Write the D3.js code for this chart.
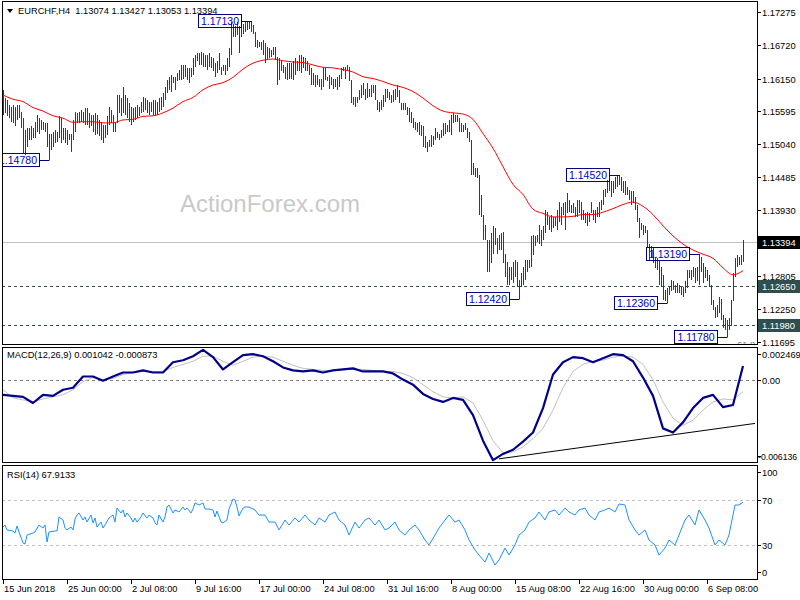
<!DOCTYPE html>
<html><head><meta charset="utf-8">
<script src="https://cdn.jsdelivr.net/npm/d3@7"></script>
<style>
html,body{margin:0;padding:0;background:#fff;}
svg{display:block;font-family:"Liberation Sans",Arial,sans-serif;}
</style></head><body>
<svg id="chart" width="800" height="600"></svg>
<script>
// ---------------- DATA ----------------
const symbol = "EURCHF,H4";
const lastOHLC = ["1.13074","1.13427","1.13053","1.13394"];
const lastPrice = 1.13394;

const highs = [
1.1596,1.1582,1.1579,1.1570,1.1567,1.1570,1.1567,1.1570,1.1570,1.1559,
1.1548,1.1528,1.1531,1.1531,1.1534,1.1531,1.1542,1.1553,1.1548,1.1545,
1.1542,1.1539,1.1539,1.1522,1.1522,1.1525,1.1528,1.1525,1.1551,1.1548,
1.1531,1.1531,1.1528,1.1522,1.1522,1.1545,1.1559,1.1556,1.1559,1.1562,
1.1559,1.1565,1.1565,1.1556,1.1553,1.1553,1.1556,1.1553,1.1545,1.1542,
1.1536,1.1536,1.1551,1.1567,1.1562,1.1553,1.1542,1.1587,1.1587,1.1582,
1.1600,1.1587,1.1582,1.1573,1.1567,1.1565,1.1567,1.1570,1.1567,1.1576,
1.1584,1.1582,1.1579,1.1576,1.1576,1.1579,1.1579,1.1576,1.1582,1.1584,
1.1590,1.1601,1.1613,1.1618,1.1621,1.1618,1.1618,1.1624,1.1630,1.1638,
1.1638,1.1638,1.1632,1.1632,1.1632,1.1649,1.1655,1.1658,1.1659,1.1660,
1.1658,1.1655,1.1655,1.1658,1.1652,1.1649,1.1641,1.1644,1.1658,1.1635,
1.1638,1.1638,1.1649,1.1666,1.1711,1.1708,1.1703,1.1711,1.1703,1.1706,
1.1708,1.1711,1.1711,1.1711,1.1713,1.1706,1.1694,1.1680,1.1677,1.1677,
1.1680,1.1675,1.1669,1.1666,1.1663,1.1669,1.1669,1.1652,1.1649,1.1646,
1.1638,1.1635,1.1641,1.1641,1.1641,1.1644,1.1649,1.1644,1.1655,1.1655,
1.1652,1.1649,1.1644,1.1638,1.1632,1.1624,1.1621,1.1621,1.1615,1.1615,
1.1635,1.1632,1.1618,1.1621,1.1618,1.1615,1.1615,1.1618,1.1621,1.1632,
1.1635,1.1635,1.1638,1.1635,1.1613,1.1584,1.1584,1.1584,1.1596,1.1604,
1.1607,1.1598,1.1607,1.1598,1.1604,1.1604,1.1604,1.1579,1.1576,1.1579,
1.1587,1.1598,1.1598,1.1593,1.1587,1.1596,1.1598,1.1604,1.1596,1.1573,
1.1573,1.1573,1.1567,1.1565,1.1559,1.1548,1.1542,1.1539,1.1542,1.1536,
1.1534,1.1517,1.1508,1.1511,1.1520,1.1517,1.1531,1.1525,1.1522,1.1528,
1.1539,1.1539,1.1536,1.1545,1.1553,1.1556,1.1553,1.1553,1.1548,1.1539,
1.1536,1.1539,1.1531,1.1525,1.1511,1.1472,1.1463,1.1463,1.1452,1.1418,
1.1384,1.1367,1.1342,1.1342,1.1353,1.1365,1.1362,1.1345,1.1350,1.1353,
1.1356,1.1319,1.1305,1.1297,1.1297,1.1305,1.1308,1.1305,1.1274,1.1286,
1.1297,1.1308,1.1308,1.1308,1.1348,1.1350,1.1348,1.1350,1.1367,1.1359,
1.1365,1.1393,1.1390,1.1381,1.1384,1.1381,1.1381,1.1393,1.1407,1.1398,
1.1404,1.1407,1.1421,1.1410,1.1401,1.1404,1.1398,1.1410,1.1410,1.1407,
1.1393,1.1387,1.1390,1.1387,1.1407,1.1393,1.1393,1.1398,1.1407,1.1410,
1.1427,1.1429,1.1444,1.1444,1.1441,1.1441,1.1449,1.1451,1.14520,1.1449,
1.1441,1.1441,1.1432,1.1427,1.1424,1.1424,1.1415,1.1401,1.1379,1.1370,
1.1367,1.1365,1.1359,1.1336,1.1331,1.1328,1.1314,1.1311,1.1308,1.1297,
1.1283,1.1258,1.1260,1.1263,1.1274,1.1272,1.1266,1.1269,1.1266,1.1263,
1.1263,1.1272,1.1291,1.1291,1.1291,1.1297,1.1294,1.1297,1.13190,1.1314,
1.1303,1.1297,1.1291,1.1283,1.1266,1.1241,1.1229,1.1232,1.1246,1.1243,
1.1215,1.1210,1.1207,1.1210,1.1241,1.1286,1.1311,1.1317,1.1314,1.1317,1.13427];

const lows = [
1.1553,1.1556,1.1551,1.1548,1.1542,1.1539,1.1534,1.1545,1.1548,1.1531,
1.1489,1.1486,1.1500,1.1511,1.1511,1.1514,1.1514,1.1525,1.1522,1.1528,
1.1528,1.1525,1.1500,1.14780,1.1494,1.1500,1.1506,1.1508,1.1514,1.1506,
1.1511,1.1506,1.1503,1.1511,1.1490,1.1511,1.1525,1.1539,1.1539,1.1542,
1.1539,1.1536,1.1536,1.1531,1.1534,1.1525,1.1520,1.1522,1.1517,1.1511,
1.1506,1.1514,1.1520,1.1536,1.1539,1.1525,1.1525,1.1539,1.1556,1.1551,
1.1556,1.1553,1.1548,1.1542,1.1536,1.1542,1.1545,1.1548,1.1551,1.1556,
1.1559,1.1562,1.1556,1.1553,1.1559,1.1553,1.1551,1.1553,1.1559,1.1562,
1.1567,1.1579,1.1590,1.1596,1.1593,1.1607,1.1596,1.1610,1.1613,1.1613,
1.1615,1.1618,1.1613,1.1607,1.1618,1.1621,1.1635,1.1644,1.1638,1.1638,
1.1635,1.1635,1.1630,1.1635,1.1632,1.1627,1.1618,1.1624,1.1630,1.1621,
1.1627,1.1621,1.1627,1.1635,1.1655,1.1686,1.1686,1.1689,1.1658,1.1686,
1.1691,1.1694,1.1697,1.1698,1.1694,1.1691,1.1669,1.1666,1.1669,1.1663,
1.1655,1.1641,1.1646,1.1649,1.1652,1.1655,1.1646,1.1604,1.1613,1.1627,
1.1624,1.1615,1.1613,1.1615,1.1615,1.1613,1.1621,1.1627,1.1627,1.1624,
1.1632,1.1627,1.1627,1.1621,1.1604,1.1604,1.1601,1.1604,1.1601,1.1596,
1.1601,1.1613,1.1610,1.1598,1.1604,1.1598,1.1601,1.1596,1.1601,1.1615,
1.1627,1.1615,1.1627,1.1610,1.1573,1.1570,1.1567,1.1573,1.1579,1.1582,
1.1587,1.1579,1.1582,1.1584,1.1584,1.1590,1.1579,1.1562,1.1559,1.1562,
1.1567,1.1576,1.1582,1.1579,1.1573,1.1576,1.1579,1.1584,1.1573,1.1562,
1.1562,1.1562,1.1553,1.1542,1.1539,1.1531,1.1528,1.1525,1.1520,1.1517,
1.1500,1.1497,1.1490,1.1500,1.1500,1.1503,1.1511,1.1514,1.1511,1.1514,
1.1517,1.1522,1.1525,1.1525,1.1520,1.1539,1.1542,1.1542,1.1525,1.1525,
1.1525,1.1528,1.1514,1.1508,1.1452,1.1452,1.1449,1.1446,1.1384,1.1381,
1.1342,1.1342,1.1288,1.1288,1.1303,1.1319,1.1334,1.1319,1.1325,1.1325,
1.1303,1.1280,1.1266,1.1266,1.1274,1.1269,1.1280,1.1263,1.12420,1.1263,
1.1266,1.1274,1.1288,1.1294,1.1297,1.1317,1.1331,1.1339,1.1336,1.1331,
1.1342,1.1353,1.1367,1.1359,1.1356,1.1362,1.1365,1.1359,1.1373,1.1367,
1.1384,1.1359,1.1387,1.1390,1.1387,1.1387,1.1381,1.1381,1.1387,1.1376,
1.1376,1.1370,1.1365,1.1373,1.1387,1.1376,1.1370,1.1381,1.1381,1.1393,
1.1401,1.1415,1.1421,1.1424,1.1415,1.1421,1.1429,1.1432,1.1435,1.1424,
1.1421,1.1418,1.1418,1.1410,1.1401,1.1404,1.1393,1.1373,1.1345,1.1359,
1.1350,1.1353,1.1328,1.1308,1.1311,1.1303,1.1294,1.1291,1.1266,1.1263,
1.1240,1.1238,1.12360,1.1249,1.1255,1.1258,1.1252,1.1252,1.1252,1.1249,
1.1246,1.1252,1.1260,1.1277,1.1274,1.1280,1.1269,1.1272,1.1266,1.1288,
1.1269,1.1277,1.1272,1.1263,1.1232,1.1224,1.1210,1.1212,1.1218,1.1207,
1.1193,1.1190,1.11780,1.1190,1.1196,1.1238,1.1280,1.1297,1.1300,1.1300,1.13053];

// moving average, read every 5 bars (bar 0,5,...,370)
const maValues = [
1.1587,1.1580,1.1576,1.1566,1.1560,1.1552,1.1548,1.1541,1.1542,1.1542,
1.1540,1.1540,1.1545,1.1546,1.1551,1.1552,1.1557,1.1565,1.1576,1.1583,
1.1596,1.1604,1.1608,1.1617,1.1631,1.1641,1.1646,1.1648,1.1645,1.1643,
1.1642,1.1638,1.1634,1.1633,1.1630,1.1626,1.1618,1.1615,1.1610,1.1604,
1.1600,1.1593,1.1582,1.1569,1.1560,1.1557,1.1555,1.1546,1.1522,1.1497,
1.1466,1.1436,1.1419,1.1394,1.1387,1.1381,1.1381,1.1382,1.1385,1.1385,
1.1389,1.1395,1.1402,1.1406,1.1399,1.1385,1.1366,1.1349,1.1335,1.1325,
1.1318,1.1311,1.1295,1.1283,1.1290];

// MACD(12,26,9), read every 5 bars
const macdMain = [
-0.00111,-0.00119,-0.00126,-0.00172,-0.00111,-0.00119,-0.00073,-0.00058,0.00026,0.00026,
-0.00005,0.00026,0.00056,0.00056,0.00072,0.00056,0.00056,0.00133,0.00148,0.00178,
0.00225,0.00171,0.00079,0.00133,0.00186,0.00193,0.00178,0.00140,0.00094,0.00072,
0.00064,0.00072,0.00056,0.00072,0.00079,0.00087,0.00064,0.00064,0.00064,0.00049,
0.00003,-0.00035,-0.00104,-0.00142,-0.00164,-0.00134,-0.00149,-0.00263,-0.00454,-0.00600,
-0.00553,-0.00522,-0.00461,-0.00393,-0.00210,0.00041,0.00133,0.00171,0.00163,0.00133,
0.00163,0.00193,0.00186,0.00140,0.00018,-0.00119,-0.00362,-0.00393,-0.00317,-0.00210,
-0.00134,-0.00111,-0.00203,-0.00187,0.001042];
const macdSignal = [
-0.00073,-0.00134,-0.00149,-0.00164,-0.00142,-0.00126,-0.00111,-0.00073,-0.00012,0.00018,
0.00003,0.00011,0.00041,0.00056,0.00064,0.00064,0.00064,0.00094,0.00117,0.00140,
0.00178,0.00178,0.00140,0.00110,0.00140,0.00171,0.00178,0.00171,0.00140,0.00110,
0.00087,0.00079,0.00072,0.00072,0.00079,0.00079,0.00079,0.00072,0.00064,0.00064,
0.00049,0.00018,-0.00035,-0.00088,-0.00126,-0.00134,-0.00126,-0.00172,-0.00301,-0.00454,
-0.00545,-0.00538,-0.00500,-0.00439,-0.00362,-0.00225,-0.00058,0.00064,0.00117,0.00140,
0.00148,0.00171,0.00178,0.00171,0.00117,0.00003,-0.00164,-0.00286,-0.00340,-0.00301,
-0.00225,-0.00164,-0.00142,-0.00149,-0.000873];
const macdTrendBars = [248, 376];
const macdTrendValues = [-0.00590, -0.00325];

// RSI(14)
const rsiBars = [
0,1,2,5,6,7,8,10,11,12,15,16,18,20,21,22,23,26,27,28,
30,31,32,34,35,36,37,38,40,41,42,44,45,46,47,49,50,51,53,55,
56,57,59,60,61,62,64,65,66,67,69,70,72,73,75,76,77,78,80,81,
82,83,85,86,88,90,91,92,94,95,96,98,100,101,103,105,106,107,109,110,
112,113,115,116,117,118,120,121,123,
124,126,128,131,133,136,138,141,143,146,148,151,153,156,158,161,163,166,168,171,
173,176,178,181,183,186,188,191,193,196,198,201,203,206,208,211,213,216,218,221,
223,226,228,231,233,236,238,241,243,246,248,251,253,256,258,261,263,266,268,271,
273,276,278,281,283,286,288,291,293,296,298,301,303,306,308,311,313,316,318,321,
323,326,328,331,333,336,338,341,343,346,348,351,353,356,358,361,363,366,368,370];
const rsiValues = [
46.0,47.8,43.4,42.5,40.7,46.9,41.6,31.9,31.0,38.9,40.7,41.6,47.8,45.1,47.8,32.7,41.6,42.5,42.5,54.9,
52.2,45.1,43.4,46.0,43.4,53.1,56.6,58.4,52.2,54.9,50.4,56.6,49.6,54.0,46.0,50.4,45.1,47.8,54.0,56.6,
50.4,62.8,58.4,61.1,54.9,58.4,54.0,50.4,54.0,50.4,54.9,58.4,54.0,56.6,54.0,49.6,47.8,56.6,50.4,54.9,
63.7,65.5,58.4,61.1,59.3,63.7,61.1,62.8,58.4,61.9,67.3,65.5,67.3,61.9,61.9,61.1,54.9,60.2,50.4,49.6,
52.2,61.9,70.8,69.9,63.7,55.8,62.8,63.7,63.7,
62.8,61.1,56.6,56.6,50.4,50.4,43.4,52.2,47.8,54.0,50.4,56.6,52.2,47.8,54.0,50.4,56.6,59.3,52.2,47.8,
38.9,50.4,45.1,52.2,54.0,47.8,52.2,43.4,45.1,50.4,43.4,38.9,43.4,47.8,43.4,34.5,30.1,38.9,45.1,52.2,
56.6,50.4,52.2,43.4,34.5,25.7,21.2,15.0,23.0,12.4,16.8,27.4,21.2,30.1,38.9,43.4,50.4,54.0,59.3,52.2,
59.3,61.1,56.6,62.8,59.3,56.6,61.1,62.8,56.6,52.2,59.3,61.1,62.8,59.3,66.4,65.5,52.2,43.4,38.9,43.4,
34.5,30.1,21.2,27.4,34.5,30.1,38.9,52.2,56.6,47.8,61.1,52.2,45.1,30.1,34.5,30.1,38.9,65.5,65.5,67.9133];

// swing labels
const swingLabels = ["1.14780","1.17130","1.12420","1.14520","1.13190","1.12360","1.11780"];
const swingBars = [23,124,258,308,348,332,362];
const swingPrices = [1.14780,1.17130,1.12420,1.14520,1.13190,1.12360,1.11780];

// horizontal levels
const levelPrices = [1.12650, 1.11980];
const levelLabels = ["1.12650","1.11980"];

// axis ticks
const priceTicks = ["1.17275","1.16720","1.16150","1.15595","1.15040","1.14485","1.13930","1.12805","1.12250","1.11695"];
const macdTickLabels = ["0.002469","0.00","-0.006136"];
const rsiTickLabels = ["100","70","30","0"];
const rsiLevels = [70, 30];
const timeLabels = ["15 Jun 2018","25 Jun 00:00","2 Jul 08:00","9 Jul 16:00","17 Jul 00:00","24 Jul 08:00","31 Jul 16:00","8 Aug 00:00","15 Aug 08:00","22 Aug 16:00","30 Aug 00:00","6 Sep 08:00"];
const timeBars = [0,32,64,96,128,160,192,224,256,288,320,352];

// ---------------- LAYOUT ----------------
const svg = d3.select("#chart");
const L = 2, R = 757;
const P = {top:1, bottom:344}, M = {top:347, bottom:462}, S = {top:465, bottom:579};
const FS = 9.3;

const x = d3.scaleLinear().domain([0, 1]).range([3, 5]);
const y = d3.scaleLinear().domain([1.11695, 1.17275]).range([342, 12]);
const ym = d3.scaleLinear().domain([-0.006136, 0.002469]).range([462, 347]);
const yr = d3.scaleLinear().domain([0, 100]).range([579, 466]);

const defs = svg.append("defs");
function clip(id, p){ defs.append("clipPath").attr("id", id).append("rect").attr("x", L+1).attr("y", p.top+1).attr("width", R-L-1).attr("height", p.bottom-p.top-1); }
clip("cp", P); clip("cm", M); clip("cr", S);

svg.append("rect").attr("width",800).attr("height",600).attr("fill","#fff");

// ---- price panel
const gp = svg.append("g").attr("clip-path","url(#cp)");
gp.append("text").attr("x",180).attr("y",212).attr("font-size",24).attr("fill","#c9c9c9").text("ActionForex.com");
gp.append("line").attr("x1",L).attr("x2",R).attr("y1",Math.round(y(lastPrice))+0.5).attr("y2",Math.round(y(lastPrice))+0.5).attr("stroke","#c0c0c0");
levelPrices.forEach(v=>{
  gp.append("line").attr("x1",L).attr("x2",R).attr("y1",Math.round(y(v))+0.5).attr("y2",Math.round(y(v))+0.5)
    .attr("stroke","#2f4f4f").attr("stroke-dasharray","3,3");
});
const bars = d3.range(highs.length).map(i=>({i, h:highs[i], l:lows[i]}));
gp.append("g").selectAll("line").data(bars).join("line")
  .attr("x1",d=>Math.round(x(d.i))+0.5).attr("x2",d=>Math.round(x(d.i))+0.5)
  .attr("y1",d=>Math.round(y(d.h))).attr("y2",d=>Math.max(Math.round(y(d.l)), Math.round(y(d.h))+1))
  .attr("stroke","#17465c").attr("stroke-width",1);
const maPts = maValues.map((v,k)=>[k*5, v]);
gp.append("path").datum(maPts).attr("fill","none").attr("stroke","#ff0000").attr("stroke-width",1)
  .attr("d", d3.line().x(d=>x(d[0])).y(d=>y(d[1])).curve(d3.curveMonotoneX));
swingLabels.forEach((lab,k)=>{
  const bx = x(swingBars[k]), by = Math.round(y(swingPrices[k]));
  const w = 43, h = 13, right = Math.round(bx) - 10;
  gp.append("line").attr("x1",right).attr("x2",Math.round(bx)+0.5).attr("y1",by+0.5).attr("y2",by+0.5).attr("stroke","#000080");
  gp.append("rect").attr("x",right-w+0.5).attr("y",by-6.5).attr("width",w).attr("height",h)
    .attr("fill","none").attr("stroke","#000080");
  gp.append("text").attr("x",right-w/2+0.5).attr("y",by+4).attr("text-anchor","middle")
    .attr("font-size",10.5).attr("fill","#0000c8").text(lab);
});
gp.append("text").attr("x",737).attr("y",348).attr("font-size",FS).attr("fill","#808080").text("61.8");

// ---- MACD panel
const gm = svg.append("g").attr("clip-path","url(#cm)");
gm.append("line").attr("x1",L).attr("x2",R).attr("y1",Math.round(ym(0))+0.5).attr("y2",Math.round(ym(0))+0.5)
  .attr("stroke","#808080").attr("stroke-dasharray","3,3");
const sigPts = macdSignal.map((v,k)=>[k*5, v]);
const mainPts = macdMain.map((v,k)=>[k*5, v]);
const lm = d3.line().x(d=>x(d[0])).y(d=>ym(d[1]));
gm.append("path").datum(sigPts).attr("fill","none").attr("stroke","#c0c0c0").attr("stroke-width",1).attr("d",lm);
gm.append("path").datum(mainPts).attr("fill","none").attr("stroke","#00008b").attr("stroke-width",2.2)
  .attr("stroke-linejoin","round").attr("d",lm);
gm.append("line").attr("x1",x(macdTrendBars[0])).attr("x2",x(macdTrendBars[1]))
  .attr("y1",ym(macdTrendValues[0])).attr("y2",ym(macdTrendValues[1])).attr("stroke","#000").attr("stroke-width",1);

// ---- RSI panel
const gr = svg.append("g").attr("clip-path","url(#cr)");
rsiLevels.forEach(v=>{
  gr.append("line").attr("x1",L).attr("x2",R).attr("y1",Math.round(yr(v))+0.5).attr("y2",Math.round(yr(v))+0.5)
    .attr("stroke","#c0c0c0").attr("stroke-dasharray","3,3");
});
const rsiPts = rsiBars.map((b,k)=>[b, rsiValues[k]]);
gr.append("path").datum(rsiPts).attr("fill","none").attr("stroke","#1e90ff").attr("stroke-width",1)
  .attr("d", d3.line().x(d=>x(d[0])).y(d=>yr(d[1])));

// ---- frames
[P,M,S].forEach(p=>{
  svg.append("rect").attr("x",L+0.5).attr("y",p.top+0.5).attr("width",R-L).attr("height",p.bottom-p.top)
    .attr("fill","none").attr("stroke","#000");
});

// ---- headers
const hdr = svg.append("g").attr("font-size",FS).attr("fill","#000");
hdr.append("path").attr("d","M7,9 L13,9 L10,13 Z").attr("fill","#000");
hdr.append("text").attr("x",18).attr("y",14).style("white-space","pre")
  .text(symbol + "  " + lastOHLC.join(" "));
hdr.append("text").attr("x",7).attr("y",358).text("MACD(12,26,9) " + macdMain[macdMain.length-1].toFixed(6) + " " + macdSignal[macdSignal.length-1].toFixed(6));
hdr.append("text").attr("x",7).attr("y",478).text("RSI(14) " + rsiValues[rsiValues.length-1].toFixed(4));

// ---- right axis
const ax = svg.append("g").attr("font-size",FS).attr("fill","#000");
priceTicks.forEach(t=>{
  const yy = Math.round(y(+t));
  ax.append("line").attr("x1",R).attr("x2",R+4).attr("y1",yy+0.5).attr("y2",yy+0.5).attr("stroke","#000");
  ax.append("text").attr("x",R+5).attr("y",yy+3.5).text(t);
});
function tag(v, label, bg){
  const yy = Math.round(y(v));
  ax.append("rect").attr("x",R+1).attr("y",yy-6).attr("width",800-R).attr("height",13).attr("fill",bg);
  ax.append("text").attr("x",R+5).attr("y",yy+3.5).attr("fill","#fff").text(label);
}
levelPrices.forEach((v,k)=>tag(v, levelLabels[k], "#2f4f4f"));
tag(lastPrice, lastPrice.toFixed(5), "#000");

const macdTickVals = [0.002469, 0, -0.006136];
const macdTickOffs = [7, 0, -6];
macdTickLabels.forEach((t,k)=>{
  const yy = Math.round(ym(macdTickVals[k])) + macdTickOffs[k];
  ax.append("line").attr("x1",R).attr("x2",R+4).attr("y1",yy+0.5).attr("y2",yy+0.5).attr("stroke","#000");
  ax.append("text").attr("x",R+(t.length>8?1:5)).attr("y",yy+3.5).attr("font-size",t.length>8?8.7:FS).text(t);
});
const rsiOffs = [6, 0, 0, -7];
rsiTickLabels.forEach((t,k)=>{
  const yy = Math.round(yr(+t)) + rsiOffs[k];
  ax.append("line").attr("x1",R).attr("x2",R+4).attr("y1",yy+0.5).attr("y2",yy+0.5).attr("stroke","#000");
  ax.append("text").attr("x",R+5).attr("y",yy+3.5).text(t);
});

// ---- time axis
timeLabels.forEach((t,k)=>{
  const xx = Math.round(x(timeBars[k]));
  ax.append("line").attr("x1",xx+0.5).attr("x2",xx+0.5).attr("y1",S.bottom).attr("y2",S.bottom+5).attr("stroke","#000");
  ax.append("text").attr("x",xx+1).attr("y",592).text(t);
});
</script>
</body></html>
